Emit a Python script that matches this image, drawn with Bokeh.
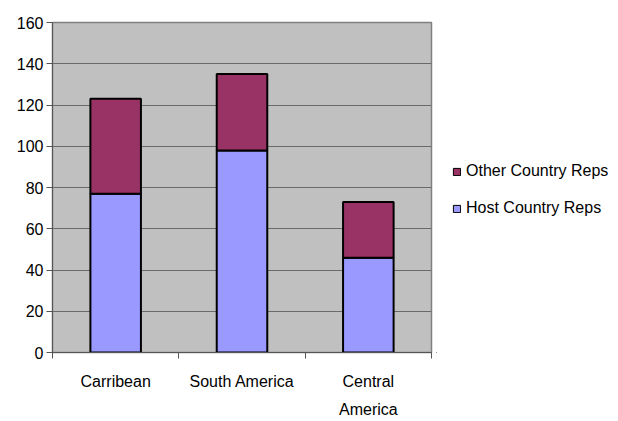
from bokeh.plotting import figure
from bokeh.models import ColumnDataSource, Range1d, FixedTicker, Legend, LegendItem
from bokeh.layouts import row
from bokeh.embed import file_html
from bokeh.resources import INLINE

categories = ["Carribean", "South America", "Central America"]
category_labels = ["Carribean", "South America", "Central\nAmerica"]
host_reps = [77, 98, 46]
other_reps = [46, 37, 27]
y_ticks = [0, 20, 40, 60, 80, 100, 120, 140, 160]
series_names = ["Host Country Reps", "Other Country Reps"]
series_colors = ["#9999FF", "#993366"]

FONT = "Liberation Sans"
FS = "16px"

x_pos = [i + 0.5 for i in range(len(categories))]
source = ColumnDataSource(data=dict(x=x_pos, host=host_reps, other=other_reps))

p = figure(width=436, height=421, output_backend="svg", toolbar_location=None,
           x_range=Range1d(0, len(categories)), y_range=Range1d(0, 160),
           min_border_left=52, min_border_right=5, min_border_top=22, min_border_bottom=69)

p.border_fill_color = "white"
p.background_fill_color = "#C0C0C0"
p.outline_line_color = "#808080"
p.outline_line_width = 1.5

renderers = p.vbar_stack(["host", "other"], x="x", width=0.4, source=source,
                         color=series_colors, line_color="black", line_width=2)

# grid
p.xgrid.visible = False
p.ygrid.ticker = FixedTicker(ticks=y_ticks)
p.ygrid.grid_line_color = "#6a6a6a"
p.ygrid.grid_line_width = 1

# y axis
p.yaxis.ticker = FixedTicker(ticks=y_ticks)
p.yaxis.major_label_text_font = FONT
p.yaxis.major_label_text_font_size = FS
p.yaxis.major_label_text_color = "black"
p.yaxis.major_tick_out = 6
p.yaxis.major_tick_in = 0
p.yaxis.minor_tick_line_color = None
p.yaxis.axis_line_color = "#555555"
p.yaxis.major_tick_line_color = "#555555"
p.yaxis.major_label_standoff = 3

# x axis
p.xaxis.ticker = FixedTicker(ticks=x_pos, minor_ticks=list(range(len(categories) + 1)))
p.xaxis.major_label_overrides = {x: lab for x, lab in zip(x_pos, category_labels)}
p.xaxis.major_label_text_font = FONT
p.xaxis.major_label_text_font_size = FS
p.xaxis.major_label_text_color = "black"
p.xaxis.major_label_text_line_height = 1.7
p.xaxis.major_tick_out = 0
p.xaxis.major_tick_in = 0
p.xaxis.major_tick_line_color = None
p.xaxis.minor_tick_out = 6
p.xaxis.minor_tick_in = 0
p.xaxis.minor_tick_line_color = "#555555"
p.xaxis.axis_line_color = "#555555"
p.xaxis.major_label_standoff = 14

# legend panel (separate figure to the right of the plot area)
lp = figure(width=182, height=421, output_backend="svg", toolbar_location=None,
            x_axis_location=None, y_axis_location=None,
            x_range=Range1d(0, 1), y_range=Range1d(0, 1),
            min_border_left=0, min_border_right=0, min_border_top=0, min_border_bottom=0)
lp.grid.visible = False
lp.outline_line_color = None
lp.background_fill_color = "white"
lp.border_fill_color = "white"
# legend proxies: zero-height, outside the visible range, only used for the legend swatches
leg_host = lp.vbar(x=[-5], top=[0], bottom=[0], width=0.1,
                   fill_color=series_colors[0], line_color="black", line_width=1)
leg_other = lp.vbar(x=[-5], top=[0], bottom=[0], width=0.1,
                    fill_color=series_colors[1], line_color="black", line_width=1)

legend = Legend(items=[LegendItem(label=series_names[1], renderers=[leg_other]),
                       LegendItem(label=series_names[0], renderers=[leg_host])],
                location=(16, 134), orientation="vertical")
legend.label_text_font = FONT
legend.label_text_font_size = FS
legend.label_text_color = "black"
legend.glyph_width = 9
legend.glyph_height = 9
legend.label_height = 20
legend.spacing = 17
legend.label_standoff = 5
legend.padding = 0
legend.margin = 0
legend.border_line_color = None
legend.background_fill_alpha = 0
lp.add_layout(legend)

layout = row(p, lp)
open("out.html", "w").write(file_html(layout, INLINE))
